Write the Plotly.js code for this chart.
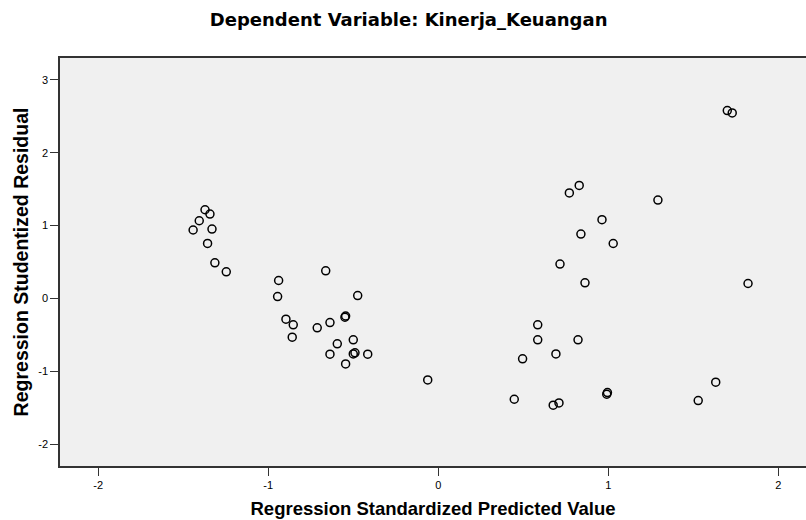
<!DOCTYPE html>
<html>
<head>
<meta charset="utf-8">
<script src="https://cdn.plot.ly/plotly-3.0.1.min.js"></script>
<style>
  html, body { margin: 0; padding: 0; background: #ffffff; }
  #chart { width: 806px; height: 520px; }
</style>
</head>
<body>
<div id="chart"></div>
<script>
// Regression Standardized Predicted Value (x) vs Regression Studentized Residual (y)
const predicted = [
  -1.442, -1.406, -1.372, -1.343, -1.331, -1.357, -1.314, -1.247,
  -0.939, -0.945, -0.896, -0.853, -0.859, -0.712, -0.637, -0.549,
  -0.545, -0.500, -0.594, -0.637, -0.500, -0.490, -0.415, -0.545,
  -0.662, -0.474, -0.062, 0.585, 0.585, 0.822, 0.692, 0.496,
  0.447, 0.676, 0.710, 0.991, 0.995, 1.529, 1.632, 1.700,
  1.729, 0.829, 0.771, 1.292, 0.963, 0.839, 1.029, 0.716,
  0.863, 1.822
];
const residual = [
  0.940, 1.067, 1.218, 1.159, 0.953, 0.756, 0.490, 0.367,
  0.247, 0.027, -0.283, -0.361, -0.530, -0.402, -0.330, -0.256,
  -0.240, -0.567, -0.622, -0.764, -0.760, -0.745, -0.764, -0.897,
  0.380, 0.040, -1.117, -0.361, -0.567, -0.567, -0.760, -0.828,
  -1.382, -1.464, -1.433, -1.313, -1.290, -1.401, -1.148, 2.578,
  2.547, 1.552, 1.448, 1.351, 1.081, 0.884, 0.755, 0.472,
  0.216, 0.206
];
const xTicks = [-2, -1, 0, 1, 2];
const yTicks = [-2, -1, 0, 1, 2, 3];
const chartTitle = 'Dependent Variable: Kinerja_Keuangan';
const xTitle = 'Regression Standardized Predicted Value';
const yTitle = 'Regression Studentized Residual';

const trace = {
  type: 'scatter',
  mode: 'markers',
  x: predicted,
  y: residual,
  marker: {
    symbol: 'circle-open',
    size: 8,
    color: '#000000',
    line: { width: 1.5, color: '#000000' }
  },
  hoverinfo: 'x+y'
};

const axisFont = { family: 'Liberation Sans, Arial, sans-serif', size: 11, color: '#000000' };

const layout = {
  width: 806,
  height: 520,
  margin: { l: 60, r: 0, t: 58, b: 54 },
  paper_bgcolor: '#ffffff',
  plot_bgcolor: '#f0f0f0',
  showlegend: false,
  title: {
    text: chartTitle,
    font: { family: 'DejaVu Sans, Verdana, sans-serif', size: 18, color: '#000000', weight: 'bold' },
    x: 0.507, xref: 'container', xanchor: 'center',
    y: 1 - 20 / 520, yref: 'container', yanchor: 'middle'
  },
  xaxis: {
    range: [-2.225, 2.163],
    tickvals: xTicks,
    ticktext: xTicks.map(String),
    ticks: 'outside', ticklen: 8, tickwidth: 1.2, tickcolor: '#333333',
    tickfont: axisFont,
    showgrid: false, zeroline: false,
    showline: true, linecolor: '#333333', linewidth: 1.6, mirror: true,
    title: {
      text: xTitle,
      font: { family: 'Liberation Sans, Arial, sans-serif', size: 18.5, color: '#000000', weight: 'bold' },
      standoff: 12
    }
  },
  yaxis: {
    range: [-2.298, 3.30],
    tickvals: yTicks,
    ticktext: yTicks.map(String),
    ticks: 'outside', ticklen: 8, tickwidth: 1.2, tickcolor: '#333333',
    tickfont: axisFont,
    showgrid: false, zeroline: false,
    showline: true, linecolor: '#333333', linewidth: 1.6,
    title: {
      text: yTitle,
      font: { family: 'Liberation Sans, Arial, sans-serif', size: 19.5, color: '#000000', weight: 'bold' },
      standoff: 4
    }
  }
};

Plotly.newPlot('chart', [trace], layout, { displayModeBar: false, staticPlot: false });
</script>
</body>
</html>
